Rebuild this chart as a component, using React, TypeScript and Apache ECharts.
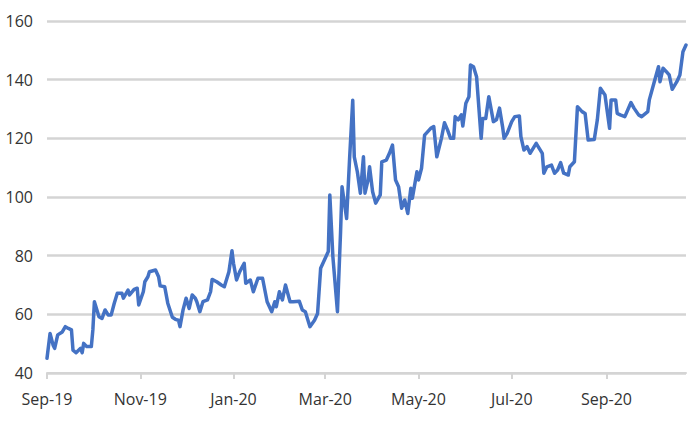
import React, { useEffect, useRef } from "react";
import * as echarts from "echarts";

const dates: string[] = [
  "2019-09-01","2019-09-03","2019-09-05","2019-09-06","2019-09-08","2019-09-11","2019-09-13","2019-09-15","2019-09-17","2019-09-18",
  "2019-09-20","2019-09-23","2019-09-24","2019-09-25","2019-09-27","2019-09-30","2019-10-01","2019-10-02","2019-10-05","2019-10-07",
  "2019-10-09","2019-10-11","2019-10-13","2019-10-15","2019-10-17","2019-10-20","2019-10-21","2019-10-24","2019-10-25","2019-10-28",
  "2019-10-30","2019-10-31","2019-11-03","2019-11-04","2019-11-06","2019-11-07","2019-11-11","2019-11-13","2019-11-14","2019-11-17",
  "2019-11-19","2019-11-22","2019-11-24","2019-11-26","2019-11-27","2019-11-29","2019-12-01","2019-12-03","2019-12-05","2019-12-07",
  "2019-12-08","2019-12-10","2019-12-12","2019-12-15","2019-12-17","2019-12-18","2019-12-21","2019-12-24","2019-12-26","2019-12-28",
  "2019-12-29","2019-12-31","2020-01-01","2020-01-03","2020-01-05","2020-01-08","2020-01-09","2020-01-12","2020-01-14","2020-01-17",
  "2020-01-20","2020-01-23","2020-01-26","2020-01-28","2020-01-29","2020-01-31","2020-02-02","2020-02-04","2020-02-07","2020-02-09",
  "2020-02-13","2020-02-15","2020-02-17","2020-02-20","2020-02-23","2020-02-25","2020-02-27","2020-03-01","2020-03-03","2020-03-04",
  "2020-03-06","2020-03-09","2020-03-11","2020-03-12","2020-03-15","2020-03-17","2020-03-19","2020-03-20","2020-03-22","2020-03-24",
  "2020-03-26","2020-03-27","2020-03-29","2020-03-30","2020-04-01","2020-04-03","2020-04-06","2020-04-07","2020-04-10","2020-04-12",
  "2020-04-14","2020-04-16","2020-04-18","2020-04-20","2020-04-22","2020-04-24","2020-04-26","2020-04-27","2020-04-30","2020-05-01",
  "2020-05-03","2020-05-05","2020-05-09","2020-05-11","2020-05-13","2020-05-16","2020-05-18","2020-05-20","2020-05-22","2020-05-24",
  "2020-05-25","2020-05-27","2020-05-29","2020-05-30","2020-06-01","2020-06-03","2020-06-04","2020-06-06","2020-06-08","2020-06-11",
  "2020-06-12","2020-06-14","2020-06-16","2020-06-17","2020-06-19","2020-06-21","2020-06-23","2020-06-25","2020-06-26","2020-06-28",
  "2020-07-01","2020-07-03","2020-07-06","2020-07-07","2020-07-09","2020-07-11","2020-07-13","2020-07-15","2020-07-17","2020-07-19",
  "2020-07-21","2020-07-22","2020-07-24","2020-07-27","2020-07-29","2020-07-31","2020-08-02","2020-08-04","2020-08-07","2020-08-08",
  "2020-08-11","2020-08-13","2020-08-16","2020-08-18","2020-08-20","2020-08-24","2020-08-26","2020-08-28","2020-08-31","2020-09-03",
  "2020-09-04","2020-09-07","2020-09-08","2020-09-10","2020-09-13","2020-09-17","2020-09-19","2020-09-22","2020-09-24","2020-09-28",
  "2020-09-29","2020-10-02","2020-10-05","2020-10-06","2020-10-08","2020-10-10","2020-10-12","2020-10-14","2020-10-17","2020-10-19",
  "2020-10-21","2020-10-23"
];

const values: number[] = [
  45.0, 53.5, 49.5, 48.4, 53.0, 54.0, 55.8, 55.2, 54.7, 47.8,
  46.9, 48.4, 46.9, 50.1, 49.0, 49.0, 54.7, 64.3, 59.2, 58.6,
  61.5, 59.8, 59.8, 63.8, 67.2, 67.2, 65.5, 68.3, 66.6, 68.5,
  68.9, 63.2, 67.7, 71.1, 72.8, 74.5, 75.1, 72.8, 69.7, 69.4,
  63.8, 59.0, 58.3, 58.0, 55.8, 61.5, 65.5, 62.0, 66.6, 65.5,
  64.3, 60.9, 64.3, 64.9, 67.7, 71.9, 71.1, 70.0, 69.4, 72.8,
  74.5, 81.7, 77.4, 71.7, 74.5, 77.4, 70.6, 71.7, 67.7, 72.3,
  72.3, 64.3, 60.9, 64.3, 62.6, 67.7, 64.9, 70.0, 64.3, 64.3,
  64.5, 61.5, 60.9, 55.8, 58.0, 60.3, 75.7, 79.1, 81.4, 100.7,
  79.7, 60.9, 87.6, 103.5, 92.7, 113.7, 133.0, 113.7, 108.6, 101.3,
  113.7, 101.3, 105.8, 110.3, 101.8, 97.9, 100.7, 112.0, 112.6, 114.9,
  117.7, 105.8, 103.5, 96.2, 99.0, 94.4, 103.0, 99.6, 108.6, 105.8,
  109.8, 121.1, 123.4, 124.0, 113.7, 120.0, 125.3, 122.9, 120.0, 120.0,
  127.4, 126.3, 128.0, 124.2, 132.0, 134.2, 145.0, 144.4, 141.0, 120.0,
  126.8, 126.8, 134.2, 131.4, 125.7, 126.3, 130.3, 124.0, 120.0, 121.7,
  125.7, 127.4, 127.6, 120.6, 116.0, 117.2, 114.9, 116.6, 118.3, 116.6,
  114.9, 108.1, 110.3, 110.9, 108.1, 109.2, 111.7, 108.1, 107.5, 110.3,
  112.0, 130.8, 129.1, 128.5, 119.4, 119.6, 126.3, 137.1, 134.8, 123.4,
  133.1, 133.1, 128.5, 128.0, 127.4, 132.2, 130.3, 128.0, 127.4, 129.1,
  133.1, 138.8, 144.4, 139.3, 143.9, 142.8, 141.6, 136.7, 139.3, 141.6,
  149.5, 151.8
];

const tickDates: string[] = ["2019-09-01", "2019-11-01", "2020-01-01", "2020-03-01", "2020-05-01", "2020-07-01", "2020-09-01"];
const monthNames: string[] = ["Jan", "Feb", "Mar", "Apr", "May", "Jun", "Jul", "Aug", "Sep", "Oct", "Nov", "Dec"];
const axisStart = "2019-09-01";
const axisEnd = "2020-10-23";

function toTs(s: string): number {
  const [y, m, d] = s.split("-").map(Number);
  return new Date(y, m - 1, d).getTime();
}

export default function App() {
  const ref = useRef<HTMLDivElement>(null);
  useEffect(() => {
    if (!ref.current) return;
    const chart = echarts.init(ref.current, undefined, { renderer: "svg" });
    const labelFont = { fontFamily: "Open Sans", fontSize: 16, color: "#333333" };
    const ticks = tickDates.map(toTs);
    chart.setOption({
      animation: false,
      backgroundColor: "#ffffff",
      grid: { left: 47, right: 9, top: 21, bottom: 48, containLabel: false },
      xAxis: {
        type: "value",
        min: toTs(axisStart),
        max: toTs(axisEnd),
        axisLine: { show: true, lineStyle: { color: "#d4d4d4", width: 2 } },
        axisTick: { show: true, length: 6, customValues: ticks, lineStyle: { color: "#d4d4d4", width: 2 } },
        splitLine: { show: false },
        axisLabel: {
          ...labelFont,
          margin: 18,
          customValues: ticks,
          formatter: (v: number) => {
            const d = new Date(v);
            return monthNames[d.getMonth()] + "-" + String(d.getFullYear()).slice(2);
          },
        },
      },
      yAxis: {
        type: "value",
        min: 40,
        max: 160,
        interval: 20,
        axisLine: { show: false },
        axisTick: { show: false },
        splitLine: { show: true, lineStyle: { color: "#d4d4d4", width: 2.5 } },
        axisLabel: { ...labelFont, margin: 14 },
      },
      series: [
        {
          type: "line",
          data: dates.map((d, i) => [toTs(d), values[i]]),
          showSymbol: false,
          lineStyle: { color: "#4472C4", width: 3.5, join: "round", cap: "round" },
          itemStyle: { color: "#4472C4" },
        },
      ],
    });
    return () => chart.dispose();
  }, []);
  return <div ref={ref} style={{ position: "fixed", left: 0, top: 0, width: 695, height: 421, background: "#fff" }} />;
}
